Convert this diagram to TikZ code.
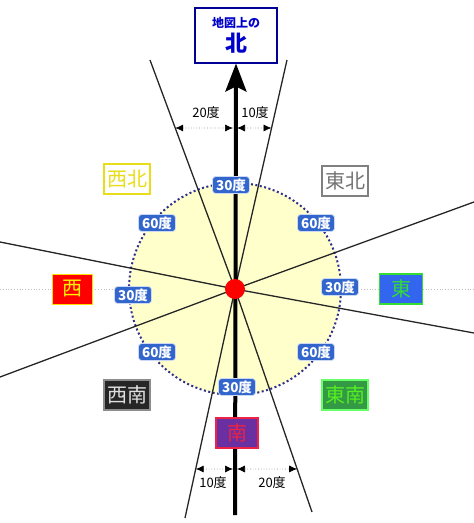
\documentclass[tikz,border=0pt]{standalone}
\usepackage{fontspec}
\newfontfamily\jpfont{Noto Sans CJK JP}
\usepackage{xcolor}
\usepackage{tikz}
\usetikzlibrary{positioning}
\usetikzlibrary{calc}
\usetikzlibrary{arrows.meta}
\definecolor{paleyellow}{HTML}{FFFFCC}
\definecolor{dotnavy}{HTML}{2E2E8C}
\definecolor{degblue}{HTML}{3366CC}
\definecolor{topnavy}{HTML}{000099}
\definecolor{topblue}{HTML}{0000CC}
\definecolor{eastblue}{HTML}{3366EE}
\definecolor{eastgreen}{HTML}{33DD33}
\definecolor{segreen}{HTML}{339944}
\definecolor{setext}{HTML}{55EE22}
\definecolor{southpurple}{HTML}{6A2FA0}
\definecolor{southred}{HTML}{EE2244}

\begin{document}
\begin{tikzpicture}[x=1pt, y=-1pt, line width=1.3pt,
        ray/.style={draw=black!85},
        degbox/.style={rounded corners=3pt, fill=degblue, draw=white!75!degblue,
            line width=0.8pt, text=white, inner xsep=3.5pt, inner ysep=2pt,
            font=\jpfont\bfseries\fontsize{13.5}{13.5}\selectfont},
        dirbox/.style={inner sep=3pt, line width=1.5pt, minimum height=30pt,
            font=\jpfont\fontsize{20}{20}\selectfont},
        dimarrow/.style={{Latex[length=8pt,width=7pt,color=black]}-{Latex[length=8pt,width=7pt,color=black]},
            draw=black!45, dotted, line width=0.7pt},
        dimtext/.style={font=\jpfont\fontsize{13}{13}\selectfont}]
            \useasboundingbox (0,0) rectangle (474,523);
            \coordinate (O) at (235,289);

            % yellow disk and faint east-west line
            \draw [black!25, dotted, line width=0.8pt] (0,289) coordinate (wx) -- (474,289) coordinate (ex);
            \node [circle, minimum size=212pt, inner sep=0, fill=paleyellow] (disk) at (O) {};
            \draw [dotnavy, line width=2pt, dash pattern=on 2pt off 2.5pt] (O) circle [radius=106pt];

            % ray ends
            \coordinate (ul) at (150,60);
            \coordinate (ur) at (287,60);
            \coordinate (dr) at (312,512);
            \coordinate (dl) at (185,518);
            \coordinate (lu) at (0,242);
            \coordinate (rd) at (474,333);
            \coordinate (ru) at (474,202);
            \coordinate (ld) at (0,377);
            \foreach \e in {ul,ur,dr,dl,lu,rd,ru,ld}
                \draw [ray] (O) -- (\e);

            % north box and thick arrow
            \node [draw=topnavy, line width=2pt, fill=white, text=topblue, align=center,
                minimum width=82pt, minimum height=55pt, inner sep=2pt] (north) at (236,35)
                {\jpfont\bfseries\fontsize{12}{14}\selectfont 地図上の\\[3pt]
                 \jpfont\bfseries\fontsize{22}{22}\selectfont 北};
            \coordinate (sbot) at (235,515);
            \draw [line width=4pt, -{Stealth[length=28pt,width=21pt,inset=5pt]}] (sbot) -- (north.south);

            \node [circle, fill=red, minimum size=20pt, inner sep=0] (centre) at (O) {};

            % angle marks
            \coordinate (a1) at ($(O)!0.703!(ul)$);
            \coordinate (a2) at (233,128);
            \coordinate (a3) at (237,128);
            \coordinate (a4) at ($(O)!0.703!(ur)$);
            \coordinate (b1) at ($(O)!0.786!(dl)$);
            \coordinate (b2) at (233,469);
            \coordinate (b3) at (237,469);
            \coordinate (b4) at ($(O)!0.807!(dr)$);
            \draw [dimarrow] (a1) -- (a2);
            \draw [dimarrow] (a3) -- (a4);
            \draw [dimarrow] (b1) -- (b2);
            \draw [dimarrow] (b3) -- (b4);
            \node [dimtext] (up20) at (206,113) {20度};
            \node [dimtext] (up10) at (255,113) {10度};
            \node [dimtext] (lo10) at (213,483) {10度};
            \node [dimtext] (lo20) at (272,483) {20度};

            % degree labels
            \node [degbox] (t30) at (231,185) {30度};
            \node [degbox] (ul60) at (157,223) {60度};
            \node [degbox] (ur60) at (316,223) {60度};
            \node [degbox] (l30) at (133,295) {30度};
            \node [degbox] (r30) at (340,287) {30度};
            \node [degbox] (dl60) at (157,352) {60度};
            \node [degbox] (dr60) at (316,352) {60度};
            \node [degbox] (b30) at (237,387) {30度};

            % directions
            \node [dirbox, fill=white, draw=yellow!90!black, text=yellow!90!black] (nw) at (127,179) {西北};
            \node [dirbox, fill=white, draw=black!50, text=black!55] (ne) at (345,181) {東北};
            \node [dirbox, fill=red, draw=yellow!80!orange, line width=1pt, text=yellow, minimum width=40pt] (w) at (72,289) {西};
            \node [dirbox, fill=eastblue, draw=eastgreen, text=eastgreen, minimum width=43pt] (e) at (401,289) {東};
            \node [dirbox, fill=black!85, draw=black!45, text=black!12] (sw) at (127,395) {西南};
            \node [dirbox, fill=segreen, draw=green!60!white, text=setext] (se) at (345,395) {東南};
            \node [dirbox, fill=southpurple, draw=southred, text=southred, minimum width=42pt] (s) at (237,433) {南};

        \end{tikzpicture}
\end{document}
